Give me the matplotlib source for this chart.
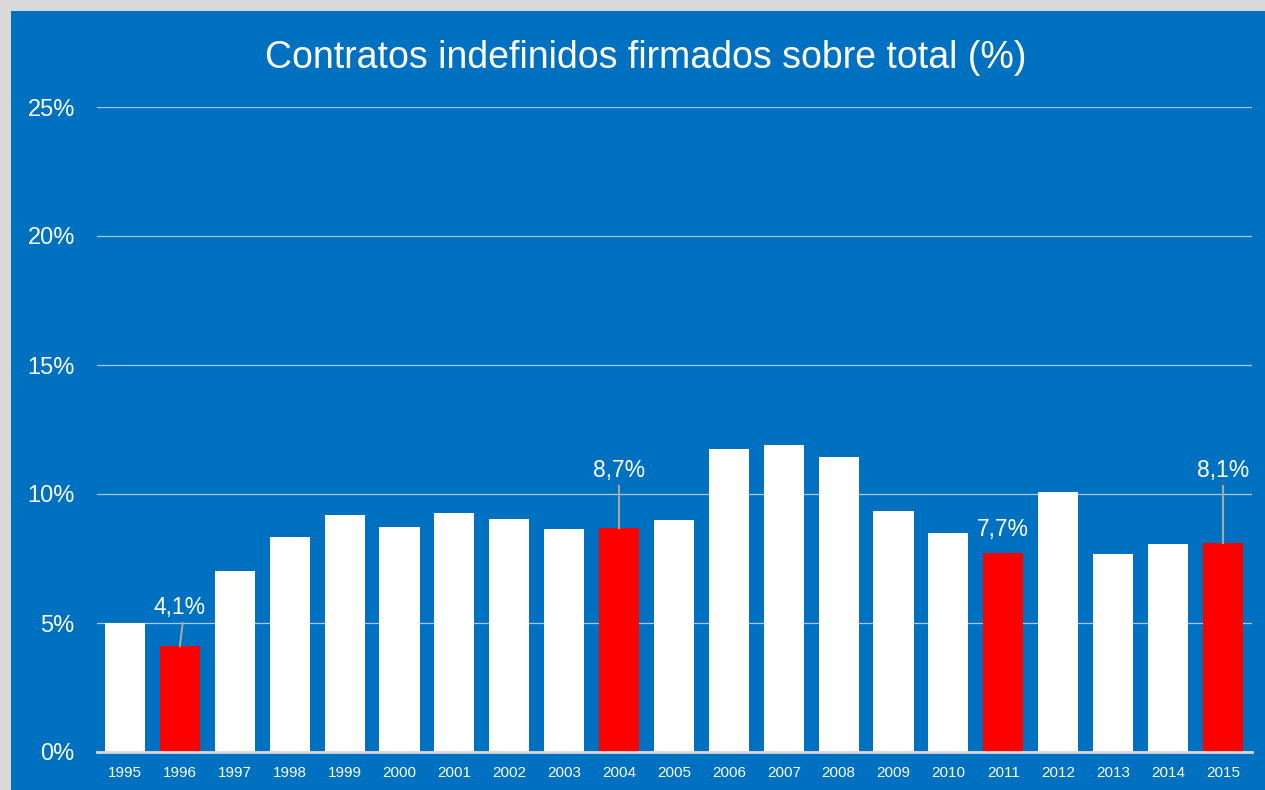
import matplotlib
matplotlib.use("Agg")
import matplotlib.pyplot as plt
from matplotlib.patches import Rectangle

years = [str(y) for y in range(1995, 2016)]
values = [5.0, 4.1, 7.0, 8.33, 9.19, 8.72, 9.26, 9.03, 8.64, 8.7, 8.99,
          11.74, 11.9, 11.43, 9.34, 8.49, 7.7, 10.08, 7.67, 8.06, 8.1]
highlight = ["1996", "2004", "2011", "2015"]
label_texts = {"1996": "4,1%", "2004": "8,7%", "2011": "7,7%", "2015": "8,1%"}
# label center heights (%) and leader-line tops (%)
label_y = {"1996": 5.62, "2004": 10.92, "2011": 8.62, "2015": 10.92}
leader_top = {"1996": 5.0, "2004": 10.31, "2011": None, "2015": 10.31}
yticks = [0, 5, 10, 15, 20, 25]
title = "Contratos indefinidos firmados sobre total (%)"

BLUE = "#0070C0"
plt.rcParams['font.family'] = ['Liberation Sans', 'DejaVu Sans']

fig = plt.figure(figsize=(12.65, 7.9), dpi=100, facecolor="#d9d9d9")
fig.patches.append(Rectangle((11/1265, 0), 1 - 11/1265, 1 - 11/790,
                             transform=fig.transFigure, facecolor=BLUE,
                             edgecolor="none", zorder=-10))

ax = fig.add_axes([97/1265, 1 - 752/790, (1252 - 97)/1265, (752 - 107)/790])
ax.set_facecolor(BLUE)
ax.patch.set_alpha(0)

x = list(range(len(years)))
colors = ["#ff0000" if y in highlight else "white" for y in years]
ax.bar(x, values, width=0.73, color=colors, zorder=3)

ax.set_xlim(-0.51, 20.53)
ax.set_ylim(0, 25)
ax.set_yticks(yticks)
ax.set_yticklabels([f"{t}%" for t in yticks], color="white", fontsize=17)
ax.set_xticks(x)
ax.set_xticklabels(years, color="white", fontsize=11)
ax.tick_params(axis="both", length=0)
ax.tick_params(axis="y", pad=16)
ax.tick_params(axis="x", pad=10)
ax.grid(axis="y", color="#a9c8e8", linewidth=0.9, zorder=1)
ax.set_axisbelow(True)
for s in ["top", "right", "left"]:
    ax.spines[s].set_visible(False)
ax.spines["bottom"].set_color("#d9d9d9")
ax.spines["bottom"].set_linewidth(2)
ax.spines["bottom"].set_zorder(4)

for i, y in enumerate(years):
    if y in label_texts:
        ax.text(i, label_y[y], label_texts[y], ha="center", va="center",
                color="white", fontsize=16.5, zorder=5)
        if leader_top[y] is not None:
            ax.plot([i, i + (0.05 if y == "1996" else 0)], [values[i], leader_top[y]],
                    color="#a6a6a6", linewidth=1.5, zorder=4)

fig.text(646/1265, 1 - 58/790, title, ha="center", va="center",
         color="white", fontsize=27)

fig.savefig("out.png", dpi=100, facecolor=fig.get_facecolor())
